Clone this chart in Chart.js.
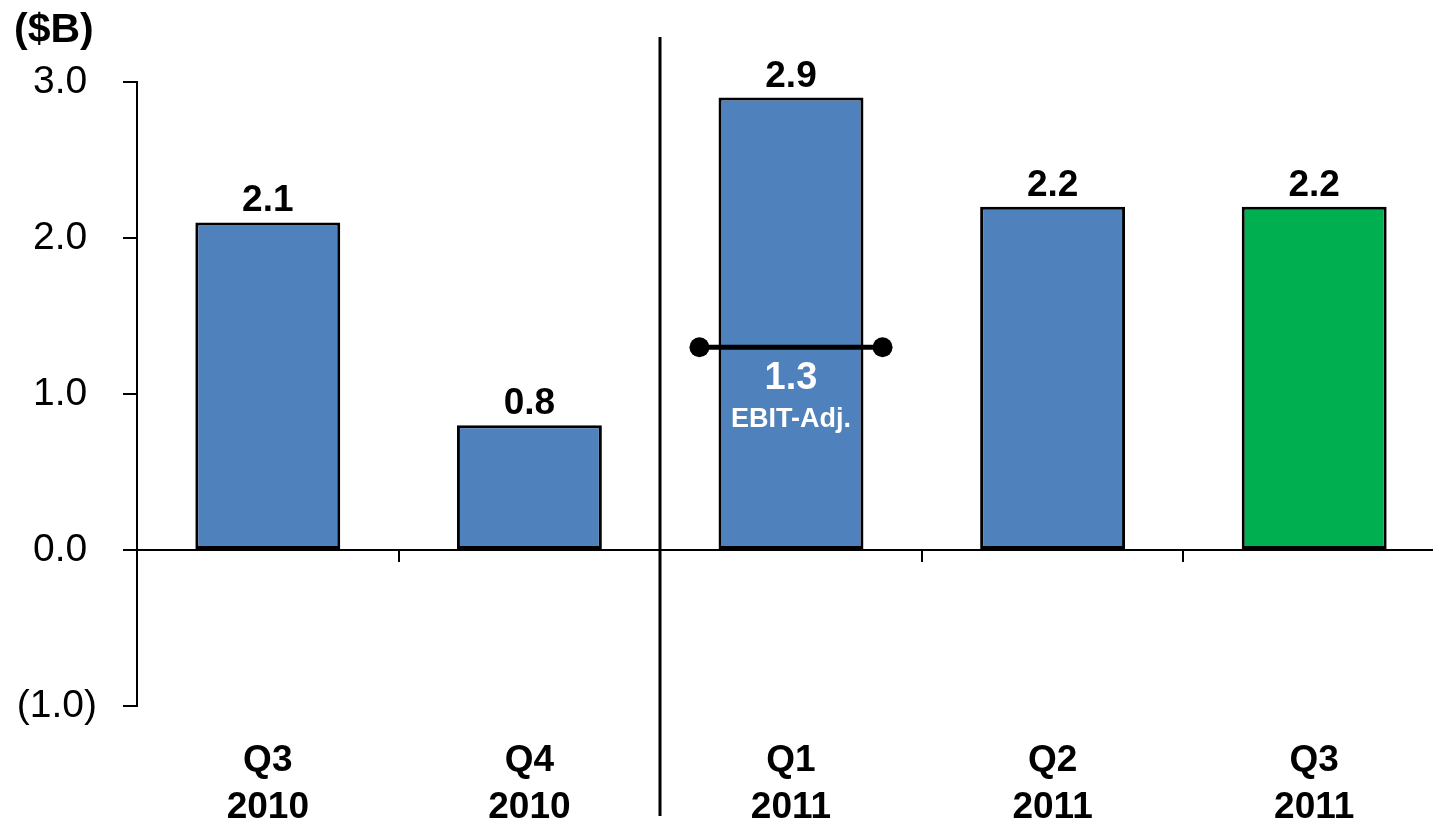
<!DOCTYPE html>
<html>
<head>
<meta charset="utf-8">
<title>Quarterly results ($B)</title>
<script src="https://cdn.jsdelivr.net/npm/chart.js@4.4.1/dist/chart.umd.min.js"></script>
<style>
  html, body { margin: 0; padding: 0; background: #fff; overflow: hidden; }
  #wrap { width: 1460px; height: 825px; }
</style>
</head>
<body>
<div id="wrap"><canvas id="chart" width="1460" height="825"></canvas></div>
<script>
// Quarters shown on the x axis (quarter, year)
const quarters = ['Q3', 'Q4', 'Q1', 'Q2', 'Q3'];
const years = ['2010', '2010', '2011', '2011', '2011'];
// Reported values, $B
const values = [2.1, 0.8, 2.9, 2.2, 2.2];
// EBIT-adjusted marker values, $B (only where disclosed)
const ebitAdj = [null, null, 1.3, null, null];
const ebitLabel = 'EBIT-Adj.';
// Value axis range
const yMin = -1;
const yMax = 3;
const yStep = 1;
const unitLabel = '($B)';

const categories = quarters.map((q, i) => [q, years[i]]);
const FONT = '"Liberation Sans", Arial, Helvetica, sans-serif';
const BLUE = '#4F81BD';
const GREEN = '#00B050';
const barColors = values.map((v, i) => i === values.length - 1 ? GREEN : BLUE);

function fmtTick(v) {
  if (v < 0) return '(' + Math.abs(v).toFixed(1) + ')';
  return v.toFixed(1) + '\u2005';
}

const annotate = {
  id: 'annotate',
  afterDatasetsDraw(chart) {
    const { ctx, scales: { x, y } } = chart;
    const meta = chart.getDatasetMeta(0);
    const y0 = y.getPixelForValue(0);
    ctx.save();

    // small ticks below the zero line at category boundaries, plus year divider
    ctx.strokeStyle = '#000';
    for (let i = 1; i < categories.length; i++) {
      const bx = Math.round((x.getPixelForValue(i - 1) + x.getPixelForValue(i)) / 2);
      ctx.lineWidth = 2;
      ctx.beginPath();
      ctx.moveTo(bx, y0);
      ctx.lineTo(bx, y0 + 12);
      ctx.stroke();
      if (years[i] !== years[i - 1]) {
        ctx.lineWidth = 3;
        ctx.beginPath();
        ctx.moveTo(bx, 37);
        ctx.lineTo(bx, 816);
        ctx.stroke();
      }
    }

    // value labels above bars
    ctx.fillStyle = '#000';
    ctx.font = 'bold 37px ' + FONT;
    ctx.textAlign = 'center';
    ctx.textBaseline = 'alphabetic';
    meta.data.forEach((bar, i) => {
      ctx.fillText(values[i].toFixed(1), bar.x, bar.y - 11);
    });

    // EBIT-adjusted marker: line with end dots and label inside the bar
    ebitAdj.forEach((v, i) => {
      if (v === null) return;
      const cx = x.getPixelForValue(i);
      const half = x.width / categories.length * 0.35;
      const py = y.getPixelForValue(v);
      ctx.strokeStyle = '#000';
      ctx.fillStyle = '#000';
      ctx.lineWidth = 5;
      ctx.beginPath();
      ctx.moveTo(cx - half, py);
      ctx.lineTo(cx + half, py);
      ctx.stroke();
      [cx - half, cx + half].forEach(dx => {
        ctx.beginPath();
        ctx.arc(dx, py, 10, 0, Math.PI * 2);
        ctx.fill();
      });
      ctx.fillStyle = '#fff';
      ctx.font = 'bold 38px ' + FONT;
      ctx.fillText(v.toFixed(1), cx, py + 42);
      ctx.font = 'bold 27px ' + FONT;
      ctx.fillText(ebitLabel, cx, py + 80);
    });

    // unit label
    ctx.fillStyle = '#000';
    ctx.textAlign = 'left';
    ctx.font = 'bold 41px ' + FONT;
    ctx.fillText(unitLabel, 14, 42);

    ctx.restore();
  }
};

new Chart(document.getElementById('chart'), {
  type: 'bar',
  data: {
    labels: categories,
    datasets: [{
      data: values,
      backgroundColor: barColors,
      borderColor: '#000',
      borderWidth: 3,
      borderSkipped: false,
      barPercentage: 0.554,
      categoryPercentage: 1.0
    }]
  },
  options: {
    responsive: false,
    animation: false,
    layout: { padding: { top: 82, right: 15, bottom: 0, left: 0 } },
    plugins: {
      legend: { display: false },
      tooltip: { enabled: false },
      title: { display: false }
    },
    scales: {
      x: {
        grid: { display: false, drawTicks: false },
        border: { display: false },
        ticks: {
          color: '#000',
          font: { family: FONT, size: 37, weight: 'bold', lineHeight: 1.28 },
          padding: 31,
          maxRotation: 0,
          autoSkip: false
        },
        afterFit(scale) { scale.height = 119; }
      },
      y: {
        min: yMin,
        max: yMax,
        border: { display: true, color: '#000', width: 2 },
        grid: {
          drawOnChartArea: true,
          color: ctx => (ctx.tick && ctx.tick.value === 0) ? '#000' : 'rgba(0,0,0,0)',
          lineWidth: 2,
          tickColor: '#000',
          tickLength: 14,
          tickWidth: 2
        },
        ticks: {
          stepSize: yStep,
          color: '#000',
          font: { family: FONT, size: 39 },
          padding: 26,
          callback: v => fmtTick(v)
        },
        afterFit(scale) { scale.width = 137; }
      }
    }
  },
  plugins: [annotate]
});
</script>
</body>
</html>
